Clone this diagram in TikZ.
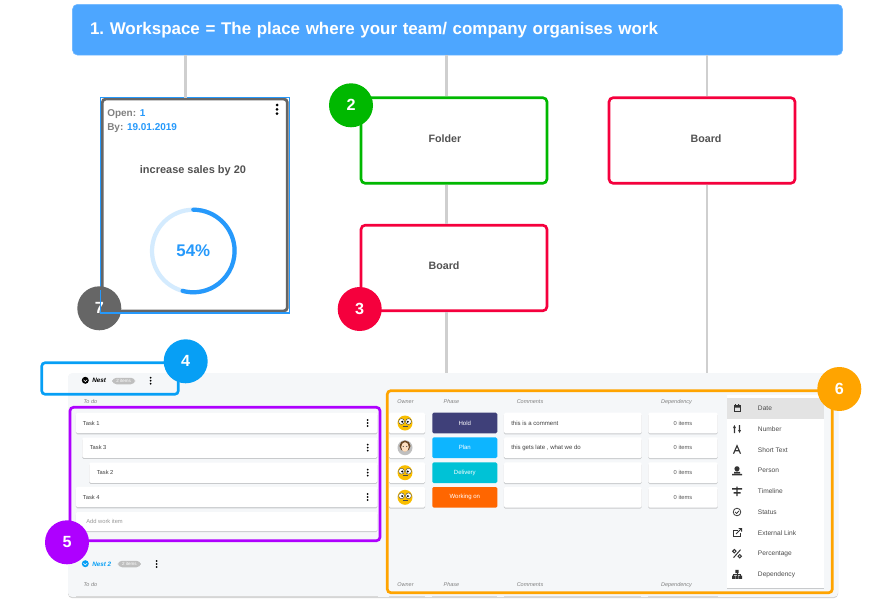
\documentclass[tikz,border=0pt]{standalone}
\usepackage{fontspec}
\setmainfont{Liberation Sans}
\usetikzlibrary{positioning,shadows}
\definecolor{headblue}{HTML}{4DA6FF}
\definecolor{linegrey}{HTML}{CFCFCF}
\definecolor{boxred}{HTML}{F5003D}
\definecolor{boxgreen}{HTML}{00B800}
\definecolor{cardgrey}{HTML}{666666}
\definecolor{pickblue}{HTML}{2699FB}
\definecolor{nestblue}{HTML}{079FF5}
\definecolor{taskpurple}{HTML}{AE00FF}
\definecolor{colorange}{HTML}{FFA400}
\definecolor{panelgrey}{HTML}{F5F7F9}
\definecolor{phasehold}{HTML}{3F4079}
\definecolor{phaseplan}{HTML}{0DB5FF}
\definecolor{phasedelivery}{HTML}{00C2D6}
\definecolor{phaseworking}{HTML}{FF6600}
\definecolor{facey}{HTML}{F9BE00}
\newcommand{\pxu}{0.025cm}
\tikzset{
  softshadow/.style={drop shadow={opacity=.18,shadow xshift=0pt,shadow yshift=-.8pt,fill=black}},
  redbox/.style={draw=boxred,line width=1.9pt,rounded corners=3pt,fill=white,softshadow,minimum width=186*\pxu,minimum height=85.6*\pxu},
  boxlabel/.style={inner sep=0pt,font=\bfseries\fontsize{7.6}{9}\selectfont,text=black!68},
  badge/.style={circle,fill=#1,text=white,minimum size=44*\pxu,inner sep=0pt,font=\bfseries\fontsize{11.5}{13}\selectfont},
  guide/.style={linegrey,line width=1.8pt},
  outline/.style={draw=#1,line width=1.9pt,rounded corners=2.5pt},
  row/.style={fill=white,rounded corners=1pt,inner sep=0pt,softshadow},
  small/.style={font=\fontsize{4.1}{5}\selectfont,text=black!75,inner sep=0pt},
  colhead/.style={font=\itshape\fontsize{3.9}{5}\selectfont,text=black!50,inner sep=0pt},
  pick/.style={font=\fontsize{4.7}{6}\selectfont,text=black!70,inner sep=0pt,anchor=west},
  pill/.style={fill=black!25,rounded corners=3pt,inner sep=0pt,minimum width=23*\pxu,minimum height=6.5*\pxu,text=white,font=\fontsize{3.2}{4}\selectfont},
  iconline/.style={black!80,line width=.55pt},
  handle/.style={pickblue,line width=.8pt}
}
% three little dots, upright
\newcommand{\threedots}[4]{
  \foreach \d in {-1,0,1} \fill (#1,#2+\d*#3) circle (#4*\pxu);
}
\begin{document}
\begin{tikzpicture}[x=0.025cm,y=-0.025cm]
  \useasboundingbox (0,0) rectangle (893,610);

  % header
  \node[fill=headblue,draw=headblue!80!white,line width=.4pt,rounded corners=3.5pt,minimum width=770*\pxu,minimum height=50.7*\pxu,
    text width=735*\pxu,align=left,text=white,font=\bfseries\fontsize{12.05}{14}\selectfont] (head) at (457.5,29.7)
    {1.\ Workspace = The place where your team/ company organises work};

  % bottom panel
  \fill[panelgrey,rounded corners=3pt,softshadow] (68,373) rectangle (838,597);
  \coordinate (panela) at (446.3,373);
  \coordinate (panelb) at (707,373);
  \draw[black!15,line width=.5pt] (76,596.5) -- (378,596.5) (389,596.5) -- (425,596.5) (432,596.5) -- (497,596.5) (504,596.5) -- (641,596.5) (648,596.5) -- (718,596.5);

  % boxes
  \node[redbox,draw=boxgreen] (folder) at (454,140.5) {};
  \node[redbox] (boardb) at (454,268) {};
  \node[redbox] (boardc) at (702,140.5) {};
  \node[boxlabel] (folderl) at (445,139) {Folder};
  \node[boxlabel] (boardbl) at (444,266) {Board};
  \node[boxlabel] (boardcl) at (706,139) {Board};
  \node[draw=cardgrey,line width=2pt,rounded corners=2.5pt,fill=white,minimum width=185*\pxu,minimum height=212*\pxu] (card) at (194.8,205) {};
  \draw[handle] (100.7,97.7) rectangle (289.3,313);

  % guides
  \coordinate (ta) at (185.3,55);
  \coordinate (tb) at (446.3,55);
  \coordinate (tc) at (707,55);
  \draw[guide] (ta) -- (ta |- card.north);
  \draw[guide] (tb) -- (tb |- folder.north);
  \draw[guide] (tb |- folder.south) -- (tb |- boardb.north);
  \draw[guide] (tb |- boardb.south) -- (panela);
  \draw[guide] (tc) -- (tc |- boardc.north);
  \draw[guide] (tc |- boardc.south) -- (panelb);

  % card
  \node[anchor=west,inner sep=0pt,font=\bfseries\fontsize{7.1}{8}\selectfont,text=black!50] (openl) at (107,114.5) {Open: \textcolor{pickblue}{1}};
  \node[anchor=west,inner sep=0pt,font=\bfseries\fontsize{7.1}{8}\selectfont,text=black!50] (byl) at (107,128) {By: \textcolor{pickblue}{19.01.2019}};
  \threedots{277}{109.3}{4.3}{1.5}
  \node[inner sep=0pt,font=\bfseries\fontsize{7.8}{9}\selectfont,text=black!68] (goal) at (193,171) {increase sales by 20};
  \draw[pickblue!20,line width=3pt] (193.3,251) circle (41.3*\pxu);
  \draw[pickblue,line width=3pt,line cap=round] (193.3,209.7) arc (90:-105:41.3*\pxu);
  \node[inner sep=0pt,font=\bfseries\fontsize{12}{14}\selectfont,text=pickblue] (pct) at (193.3,251) {54\%};

  % nest header
  \fill (85.3,380.3) circle (3.5*\pxu);
  \draw[white,line width=.4pt] (83.5,379.8) -- (85.3,381.6) -- (87.1,379.8);
  \node[anchor=west,inner sep=0pt,font=\bfseries\itshape\fontsize{4.5}{5}\selectfont] (nesta) at (92,380.5) {Nest};
  \node[pill] (itemsa) at (123.7,381) {2 items};
  \threedots{150.7}{380.7}{3}{1}
  \node[colhead,anchor=west] (todoa) at (83.3,401.7) {To do};

  % tasks
  \node[row,anchor=west,minimum width=301.5*\pxu,minimum height=20.3*\pxu] (taska) at (75.7,423) {};
  \node[row,anchor=west,minimum width=295*\pxu,minimum height=20.3*\pxu] (taskb) at (82,447.7) {};
  \node[row,anchor=west,minimum width=288*\pxu,minimum height=20.3*\pxu] (taskc) at (89,472.7) {};
  \node[row,anchor=west,minimum width=301.5*\pxu,minimum height=20.3*\pxu] (taskd) at (75.7,497) {};
  \node[row,anchor=west,minimum width=301.5*\pxu,minimum height=19*\pxu] (taske) at (75.7,521.5) {};
  \node[small,anchor=west] at (82.7,423) {Task 1};
  \node[small,anchor=west] at (89.5,447.7) {Task 3};
  \node[small,anchor=west] at (96.5,472.7) {Task 2};
  \node[small,anchor=west] at (82.7,497) {Task 4};
  \node[small,anchor=west,text=black!40] at (86,521.3) {Add work item};
  \foreach \y in {423,447.7,472.7,497} { \threedots{367.7}{\y}{3}{1} }

  % nest 2
  \fill[nestblue] (85.3,563.7) circle (3.5*\pxu);
  \draw[white,line width=.4pt] (83.5,563.2) -- (85.3,565) -- (87.1,563.2);
  \node[anchor=west,inner sep=0pt,font=\bfseries\itshape\fontsize{4.5}{5}\selectfont,text=nestblue] (nestb) at (92,564) {Nest 2};
  \node[pill] (itemsb) at (129.3,564) {2 items};
  \threedots{156.7}{564}{3}{1}
  \node[colhead,anchor=west] (todob) at (83.3,585) {To do};

  % table
  \foreach \x/\t in {405.5/Owner,451.5/Phase,530/Comments,676.5/Dependency} {
    \node[colhead] at (\x,402) {\t};
    \node[colhead] at (\x,585) {\t};
  }
  \foreach \y/\c/\t/\f in {
    423/phasehold/Hold/{this is a comment},
    447.7/phaseplan/Plan/{this gets late , what we do},
    472.7/phasedelivery/Delivery/{},
    497.3/phaseworking/Working on/{}} {
    \node[row,minimum width=36*\pxu,minimum height=20.6*\pxu] at (407,\y) {};
    \node[fill=\c,rounded corners=1pt,minimum width=65*\pxu,minimum height=20.6*\pxu,inner sep=0pt,text=white,font=\fontsize{4.3}{5}\selectfont] at (464.8,\y) {\t};
    \node[row,minimum width=137.7*\pxu,minimum height=20.6*\pxu] at (572.8,\y) {};
    \node[small,font=\fontsize{4.3}{5}\selectfont,anchor=west] at (511,\y) {\f};
    \node[row,minimum width=69.4*\pxu,minimum height=20.6*\pxu,font=\fontsize{4.1}{5}\selectfont,text=black!65] at (683,\y) {0 items};
  }
  % owner faces
  \foreach \y in {423,472.7,497.3} {
    \fill[facey] (405,\y) circle (7.5*\pxu);
    \draw[black!70,fill=white,line width=.3pt] (401.5,\y-1.5) circle (2.9*\pxu) (408.5,\y-1.5) circle (2.9*\pxu);
    \fill[black] (402.2,\y-1.2) circle (1.1*\pxu) (407.8,\y-1.2) circle (1.1*\pxu);
    \draw[black!70,line width=.3pt] (402.5,\y+3) -- (407.5,\y+3);
  }
  \fill[black!25] (405,447.7) circle (7.5*\pxu);
  \fill[brown!55!black] (405,446) circle (5.5*\pxu);
  \fill[orange!25!white] (405,447) ellipse [x radius=3.8*\pxu, y radius=4.8*\pxu];
  \fill[black!70] (403.3,446.5) circle (.6*\pxu) (406.7,446.5) circle (.6*\pxu);

  % type picker
  \fill[white,softshadow] (726.7,395) rectangle (824,588.3);
  \fill[black!11] (726.7,398.3) rectangle (824,419);
  \foreach \y/\t in {408/Date,429/Number,449.7/Short Text,470.3/Person,491/Timeline,512/Status,533/External Link,553.7/Percentage,574.3/Dependency} {
    \node[pick] at (757.7,\y) {\t};
  }
  % picker icons
  \begin{scope}[shift={(737,408)}]
    \draw[iconline] (-3,-2.5) rectangle (3,3.5);
    \fill[black!80] (-3,-2.5) rectangle (3,-.5) (-2,-4) rectangle (-1.2,-2.5) (1.2,-4) rectangle (2,-2.5);
  \end{scope}
  \begin{scope}[shift={(737,429)}]
    \fill[black!80] (-3.2,-1) rectangle (-1.9,4) (1.9,-4) rectangle (3.2,1);
    \fill[black!80] (-4,-1) -- (-2.55,-4) -- (-1.1,-1) -- cycle (1.1,1) -- (2.55,4) -- (4,1) -- cycle;
  \end{scope}
  \begin{scope}[shift={(737,449.7)}]
    \draw[black!80,line width=.8pt] (-3.5,4) -- (0,-4) -- (3.5,4) (-2,1) -- (2,1);
  \end{scope}
  \begin{scope}[shift={(737,470.3)}]
    \fill[black!80] (0,-1.5) circle (2.6*\pxu) (-3,1.5) rectangle (3,3) (-5,3.5) rectangle (5,5);
  \end{scope}
  \begin{scope}[shift={(737,491)}]
    \fill[black!80] (-.7,-4.5) rectangle (.7,5) (-5,-3) rectangle (5,-1.5) (-3.5,1) rectangle (3.5,2.5);
  \end{scope}
  \begin{scope}[shift={(737,512)}]
    \draw[iconline] (0,0) circle (3.8*\pxu);
    \draw[iconline] (-1.8,0) -- (-.4,1.5) -- (2,-1.2);
  \end{scope}
  \begin{scope}[shift={(737,533)}]
    \draw[black!80,line width=.7pt] (1,-3) -- (-3.5,-3) -- (-3.5,3.5) -- (3,3.5) -- (3,-.5);
    \draw[black!80,line width=.7pt] (-1,1) -- (4,-4) (1.5,-4.5) -- (4.5,-4.5) -- (4.5,-1.5);
  \end{scope}
  \begin{scope}[shift={(737,553.7)}]
    \draw[black!80,line width=.7pt] (-2.7,-2.5) circle (1.7*\pxu) (2.7,2.5) circle (1.7*\pxu) (-3.5,4) -- (3.5,-4);
  \end{scope}
  \begin{scope}[shift={(737,574.3)}]
    \fill[black!80] (-1.7,-4.5) rectangle (1.7,-1.2) (-5,1.2) rectangle (-2,4.5) (-1.5,1.2) rectangle (1.5,4.5) (2,1.2) rectangle (5,4.5);
    \draw[iconline] (0,-1.2) -- (0,1.2) (-3.5,1.2) -- (-3.5,0) -- (3.5,0) -- (3.5,1.2);
  \end{scope}

  % outlines
  \draw[outline=nestblue] (41.7,362.7) rectangle (178.3,394.3);
  \draw[outline=taskpurple] (70,407.3) rectangle (380,540.7);
  \draw[outline=colorange] (387.3,390.7) rectangle (832.3,592.7);

  % badges
  \node[badge=boxgreen] (btwo) at (351,105.3) {2};
  \node[badge=boxred] (bthree) at (359.7,309) {3};
  \node[badge=nestblue] (bfour) at (185.7,361.3) {4};
  \node[badge=taskpurple] (bfive) at (67,542.3) {5};
  \node[badge=colorange] (bsix) at (839.3,389) {6};
  \node[badge=cardgrey] (bseven) at (99.3,308.3) {7};
  \draw[handle] (100.7,290) -- (100.7,313) -- (121,313);
\end{tikzpicture}
\end{document}
